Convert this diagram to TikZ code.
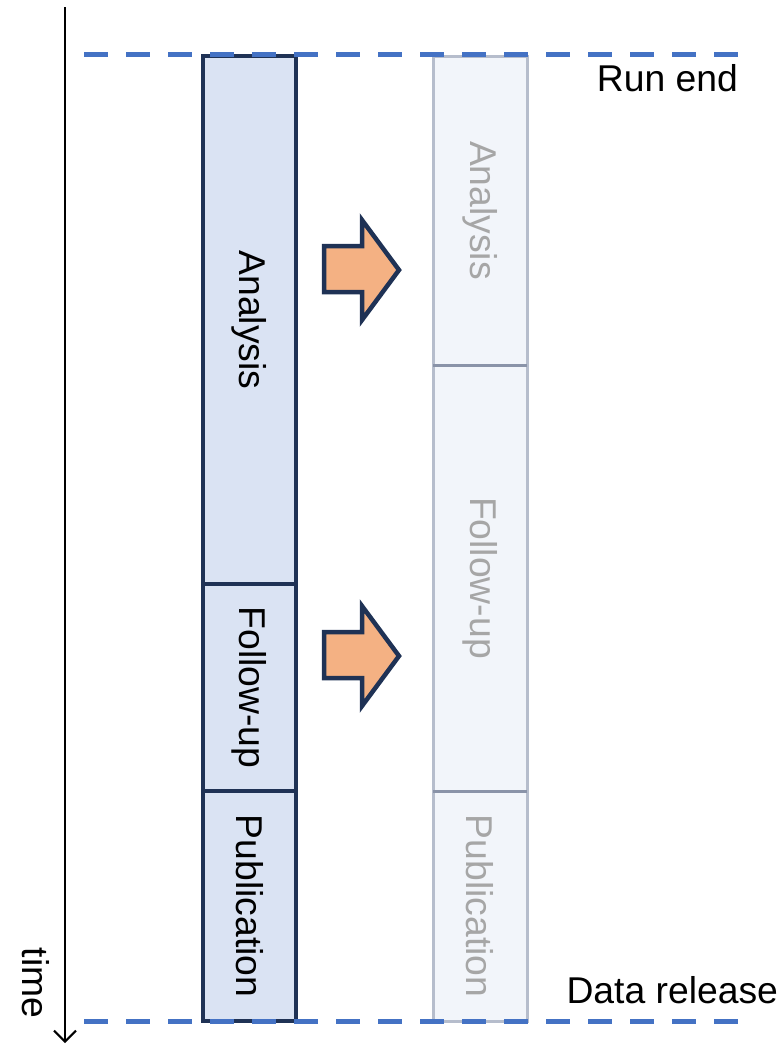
\documentclass[tikz,border=0pt]{standalone}
\usepackage{fontspec}
\setmainfont{Liberation Sans}
\usetikzlibrary{arrows.meta}
\definecolor{navy}{HTML}{1F3255}
\definecolor{lfill}{HTML}{DAE3F3}
\definecolor{rfill}{HTML}{F2F5FA}
\definecolor{rborder}{HTML}{B6BDCC}
\definecolor{rdivc}{HTML}{8A93A8}
\definecolor{rtext}{HTML}{A6A6A6}
\definecolor{dashblue}{HTML}{4472C4}
\definecolor{arrfill}{HTML}{F4B183}
\begin{document}
\begin{tikzpicture}[x=1pt,y=-1pt,
  every node/.style={font=\fontsize{37.3}{40}\selectfont, inner sep=0pt, outer sep=0pt},
  lseg/.style={draw=navy, fill=lfill, line width=3.5pt, rotate=-90, minimum height=93pt},
  rseg/.style={draw=rborder, fill=rfill, line width=3pt, rotate=-90, minimum height=94pt, text=rtext},
  rdiv/.style={draw=rdivc, line width=3pt},
  milestone/.style={draw=dashblue, line width=5pt, dash pattern=on 24pt off 18pt},
  fatarrow/.style={draw=navy, fill=arrfill, line width=4.5pt, line join=miter},
  timeaxis/.style={draw=black, line width=2pt, -{Straight Barb[length=11pt,width=22pt,line width=2pt]}}]
\useasboundingbox (0,0) rectangle (784,1044);
% time axis
\coordinate (t0) at (65,7);
\coordinate (t1) at (65,1043);
\draw[timeaxis] (t0) -- (t1);
\node[rotate=-90] (time) at (36,983) {time};
% left column
\node[lseg, minimum width=528pt] (la) at (249.5,320) {Analysis};
\node[lseg, minimum width=207pt] (lf) at (249.5,687.5) {Follow-up};
\node[lseg, minimum width=230pt] (lp) at (249.5,906) {Publication};
% right column
\node[rseg, minimum width=309pt] (ra) at (480,210.5) {Analysis};
\node[rseg, minimum width=426pt] (rf) at (480,578) {Follow-up};
\node[rseg, minimum width=230pt] (rp) at (480,906) {Publication};
\draw[rdiv] (ra.south east) -- (ra.north east);
\draw[rdiv] (rf.south east) -- (rf.north east);
% arrows
\foreach \dy/\nm in {0/a1,386/a2}{
  \begin{scope}[yshift=-\dy pt]
    \draw[fatarrow] (324,246) -- (362,246) -- (362,220) -- (399,270) -- (362,320) -- (362,292) -- (324,292) -- cycle;
  \end{scope}
}
% milestones
\coordinate (m0a) at (84,54);
\coordinate (m0b) at (738,54);
\coordinate (m1a) at (84,1021);
\coordinate (m1b) at (738,1021);
\draw[milestone] (m0a) -- (m0b);
\draw[milestone] (m1a) -- (m1b);
\node[anchor=east] (runend) at (738,78) {Run end};
\node[anchor=east] (release) at (778,990) {Data release};
\end{tikzpicture}
\end{document}
